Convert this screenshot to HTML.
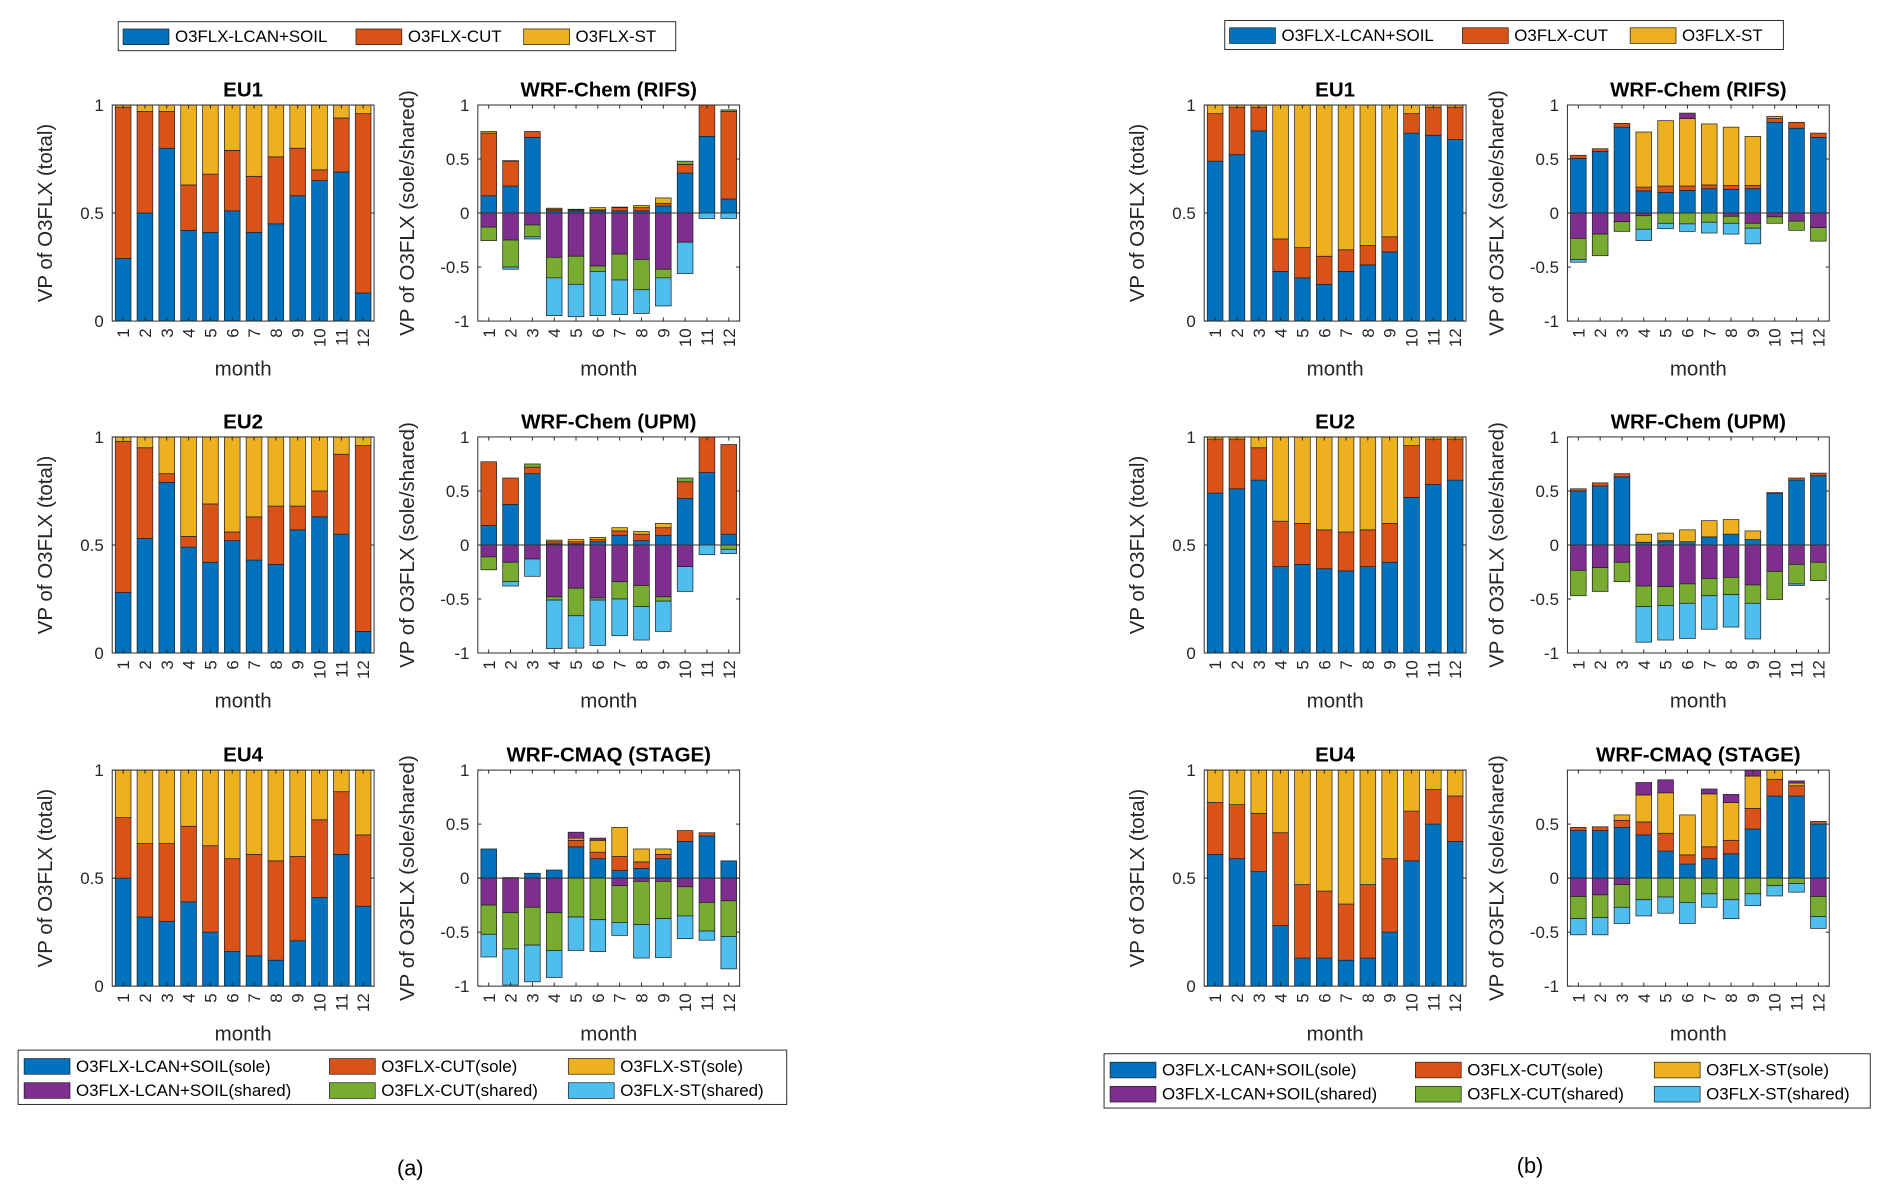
<!DOCTYPE html>
<html><head><meta charset="utf-8"><style>
html,body{margin:0;padding:0;background:#fff;}
svg{display:block;font-family:"Liberation Sans",Arial,sans-serif;}
</style></head><body>
<svg id="fig" width="1892" height="1201" viewBox="0 0 1568 995" preserveAspectRatio="none" xmlns="http://www.w3.org/2000/svg"></svg>
<script>
const months = ['1','2','3','4','5','6','7','8','9','10','11','12'];
const colors = ['#0072BD','#D95319','#EDB120','#7E2F8E','#77AC30','#4DBEEE'];
// total panels: LCAN+SOIL, CUT, ST
const eu1aL=[.29,.50,.80,.42,.41,.51,.41,.45,.58,.65,.69,.13];
const eu1aC=[.70,.47,.17,.21,.27,.28,.26,.31,.22,.05,.25,.83];
const eu1aS=[.01,.03,.03,.37,.32,.21,.33,.24,.20,.30,.06,.04];
const eu2aL=[.28,.53,.79,.49,.42,.52,.43,.41,.57,.63,.55,.10];
const eu2aC=[.70,.42,.04,.05,.27,.04,.20,.27,.11,.12,.37,.86];
const eu2aS=[.02,.05,.17,.46,.31,.44,.37,.32,.32,.25,.08,.04];
const eu4aL=[.50,.32,.30,.39,.25,.16,.14,.12,.21,.41,.61,.37];
const eu4aC=[.28,.34,.36,.35,.40,.43,.47,.46,.39,.36,.29,.33];
const eu4aS=[.22,.34,.34,.26,.35,.41,.39,.42,.40,.23,.10,.30];
const eu1bL=[.74,.77,.88,.23,.20,.17,.23,.26,.32,.87,.86,.84];
const eu1bC=[.22,.22,.11,.15,.14,.13,.10,.09,.07,.09,.13,.15];
const eu1bS=[.04,.01,.01,.62,.66,.70,.67,.65,.61,.04,.01,.01];
const eu2bL=[.74,.76,.80,.40,.41,.39,.38,.40,.42,.72,.78,.80];
const eu2bC=[.25,.23,.15,.21,.19,.18,.18,.17,.18,.24,.21,.19];
const eu2bS=[.01,.01,.05,.39,.40,.43,.44,.43,.40,.04,.01,.01];
const eu4bL=[.61,.59,.53,.28,.13,.13,.12,.13,.25,.58,.75,.67];
const eu4bC=[.24,.25,.27,.43,.34,.31,.26,.34,.34,.23,.16,.21];
const eu4bS=[.15,.16,.20,.29,.53,.56,.62,.53,.41,.19,.09,.12];
// sole/shared panels: Lsole, Csole, Ssole, Lshared, Cshared, Sshared (signed)
const rifsaLs=[.16,.25,.70,.02,.02,.02,.02,.02,.065,.37,.71,.13];
const rifsaCs=[.58,.23,.055,.015,.01,.01,.03,.03,.025,.08,.29,.81];
const rifsaSs=[.015,.005,0,.01,.005,.02,.005,.02,.05,0,0,0];
const rifsaLh=[-.13,-.25,-.11,-.41,-.40,-.49,-.38,-.43,-.52,-.27,0,0];
const rifsaCh=[-.125,-.25,-.11,-.19,-.26,-.05,-.24,-.28,-.08,.03,0,.015];
const rifsaSh=[0,-.02,-.02,-.35,-.30,-.41,-.32,-.22,-.26,-.29,-.05,-.05];
const upmaLs=[.18,.375,.66,.01,.01,.03,.09,.04,.09,.43,.67,.10];
const upmaCs=[.59,.245,.06,.02,.02,.02,.04,.06,.07,.155,.33,.83];
const upmaSs=[0,0,0,.015,.02,.02,.03,.025,.04,0,0,0];
const upmaLh=[-.11,-.16,-.13,-.48,-.40,-.49,-.34,-.375,-.48,-.20,0,0];
const upmaCh=[-.12,-.18,.03,-.03,-.255,-.02,-.16,-.195,-.04,.035,0,-.04];
const upmaSh=[0,-.04,-.16,-.45,-.30,-.42,-.34,-.31,-.28,-.23,-.09,-.04];
const stageaLs=[.27,.005,.045,.075,.29,.18,.07,.09,.18,.34,.39,.16];
const stageaCs=[0,0,0,0,.06,.06,.13,.06,.04,.10,.03,0];
const stageaSs=[0,0,0,0,.02,.11,.27,.12,.05,0,0,0];
const stageaLh=[-.25,-.32,-.27,-.32,.055,.02,-.07,-.03,-.03,-.08,-.225,-.21];
const stageaCh=[-.27,-.335,-.35,-.35,-.36,-.385,-.34,-.40,-.345,-.27,-.265,-.33];
const stageaSh=[-.21,-.335,-.34,-.25,-.31,-.295,-.12,-.31,-.36,-.21,-.085,-.30];
const rifsbLs=[.505,.57,.795,.205,.19,.21,.225,.22,.225,.84,.785,.70];
const rifsbCs=[.03,.025,.035,.035,.06,.04,.035,.035,.03,.035,.055,.04];
const rifsbSs=[0,0,0,.51,.605,.625,.565,.54,.455,.02,0,0];
const rifsbLh=[-.235,-.195,-.08,-.025,0,.05,0,-.03,-.095,-.035,-.075,-.135];
const rifsbCh=[-.195,-.20,-.09,-.125,-.095,-.10,-.085,-.065,-.045,-.06,-.085,-.125];
const rifsbSh=[-.025,0,0,-.105,-.05,-.07,-.10,-.10,-.145,0,0,0];
const upmbLs=[.50,.545,.63,.025,.03,.03,.075,.10,.05,.475,.60,.64];
const upmbCs=[.02,.03,.03,0,.01,0,0,0,0,.01,.02,.025];
const upmbSs=[0,0,0,.075,.07,.11,.15,.135,.08,0,0,0];
const upmbLh=[-.235,-.21,-.16,-.38,-.385,-.36,-.31,-.30,-.37,-.245,-.18,-.16];
const upmbCh=[-.235,-.22,-.18,-.19,-.175,-.18,-.16,-.16,-.17,-.26,-.18,-.17];
const upmbSh=[0,0,0,-.33,-.32,-.325,-.31,-.30,-.33,0,-.015,0];
const stagebLs=[.44,.44,.47,.40,.25,.13,.18,.225,.455,.76,.76,.50];
const stagebCs=[.03,.035,.065,.12,.165,.085,.11,.125,.19,.155,.095,.025];
const stagebSs=[0,0,.05,.25,.375,.37,.49,.35,.30,.10,.025,0];
const stagebLh=[-.17,-.155,-.06,.115,.12,0,.045,.075,.06,0,.02,-.17];
const stagebCh=[-.205,-.21,-.21,-.20,-.175,-.225,-.145,-.20,-.145,-.07,-.05,-.185];
const stagebSh=[-.15,-.16,-.15,-.15,-.15,-.195,-.125,-.175,-.11,-.095,-.08,-.11];

const NS='http://www.w3.org/2000/svg';
const fig=document.getElementById('fig');
function mk(tag,attrs,parent){const e=document.createElementNS(NS,tag);for(const k in attrs)e.setAttribute(k,attrs[k]);(parent||fig).appendChild(e);return e;}
function txt(s,attrs,parent){const e=mk('text',attrs,parent);e.textContent=s;return e;}

function panel(name,title,x0,y0,series,kind,yticks,ytl,ylab){
  const W=217,H=179;
  const g=mk('g',{});
  
  
  const ymin=kind==='total'?0:-1, ymax=1;
  const ys=v=>y0+H-(Math.max(ymin,Math.min(ymax,v))-ymin)/(ymax-ymin)*H;
  const xs=i=>x0+(i+0.5)*W/12;
  const bw=W/12*0.72;
  mk('rect',{x:x0,y:y0,width:W,height:H,fill:'#fff',stroke:'none'},g);
  for(let i=0;i<12;i++){
    let pos=0,neg=0;
    series.forEach((arr,s)=>{
      const v=arr[i]; if(!v) return;
      let a,b;
      if(v>0){a=pos;b=pos+v;pos=b;} else {a=neg;b=neg+v;neg=b;}
      const ya=ys(a), yb=ys(b);
      const r=mk('rect',{x:xs(i)-bw/2,y:Math.min(ya,yb),width:bw,height:Math.abs(ya-yb),fill:colors[s],stroke:'#222','stroke-width':0.6},g);
      
      
    });
  }
  if(kind!=='total') mk('line',{x1:x0,x2:x0+W,y1:ys(0),y2:ys(0),stroke:'#333','stroke-width':0.8},g);
  mk('rect',{x:x0,y:y0,width:W,height:H,fill:'none',stroke:'#262626','stroke-width':0.8},g);
  yticks.forEach((v,k)=>{
    const y=ys(v);
    mk('line',{x1:x0,x2:x0+3,y1:y,y2:y,stroke:'#262626','stroke-width':0.8},g);
    mk('line',{x1:x0+W-3,x2:x0+W,y1:y,y2:y,stroke:'#262626','stroke-width':0.8},g);
    const t=txt(ytl[k],{x:x0-7,y:y+5,'text-anchor':'end','font-size':14,fill:'#262626'},g);
    
    
  });
  months.forEach((m,i)=>{
    mk('line',{x1:xs(i),x2:xs(i),y1:y0+H,y2:y0+H-3,stroke:'#262626','stroke-width':0.8},g);
    mk('line',{x1:xs(i),x2:xs(i),y1:y0,y2:y0+3,stroke:'#262626','stroke-width':0.8},g);
    const t=txt(m,{x:0,y:0,'text-anchor':'end','font-size':14,fill:'#262626',transform:`translate(${xs(i)+5},${y0+H+6}) rotate(-90)`},g);
    
    
  });
  const tt=txt(title,{x:x0+W/2,y:y0-7,'text-anchor':'middle','font-size':17,'font-weight':'bold',fill:'#000'},g);
  
  
  const xl=txt('month',{x:x0+W/2,y:y0+H+45,'text-anchor':'middle','font-size':17,fill:'#262626'},g);
  
  
  const yl=txt(ylab,{x:0,y:0,'text-anchor':'middle','font-size':17,fill:'#262626',transform:`translate(${x0-(kind==='total'?50:53)},${y0+H/2}) rotate(-90)`},g);
  
  
}
const rowsY=[87,362,638];
const totT=[0,.5,1], totL=['0','0.5','1'];
const ssT=[-1,-.5,0,.5,1], ssL=['-1','-0.5','0','0.5','1'];
const ssTb=[-1,-.5,0,.5], ssLb=['-1','-0.5','0','0.5'];
const yT='VP of O3FLX (total)', yS='VP of O3FLX (sole/shared)';
panel('eu1-a','EU1',93,rowsY[0],[eu1aL,eu1aC,eu1aS],'total',totT,totL,yT);
panel('eu2-a','EU2',93,rowsY[1],[eu2aL,eu2aC,eu2aS],'total',totT,totL,yT);
panel('eu4-a','EU4',93,rowsY[2],[eu4aL,eu4aC,eu4aS],'total',totT,totL,yT);
panel('eu1-b','EU1',998,rowsY[0],[eu1bL,eu1bC,eu1bS],'total',totT,totL,yT);
panel('eu2-b','EU2',998,rowsY[1],[eu2bL,eu2bC,eu2bS],'total',totT,totL,yT);
panel('eu4-b','EU4',998,rowsY[2],[eu4bL,eu4bC,eu4bS],'total',totT,totL,yT);
panel('rifs-a','WRF-Chem (RIFS)',396,rowsY[0],[rifsaLs,rifsaCs,rifsaSs,rifsaLh,rifsaCh,rifsaSh],'ss',ssT,ssL,yS);
panel('upm-a','WRF-Chem (UPM)',396,rowsY[1],[upmaLs,upmaCs,upmaSs,upmaLh,upmaCh,upmaSh],'ss',ssT,ssL,yS);
panel('stage-a','WRF-CMAQ (STAGE)',396,rowsY[2],[stageaLs,stageaCs,stageaSs,stageaLh,stageaCh,stageaSh],'ss',ssT,ssL,yS);
panel('rifs-b','WRF-Chem (RIFS)',1299,rowsY[0],[rifsbLs,rifsbCs,rifsbSs,rifsbLh,rifsbCh,rifsbSh],'ss',ssT,ssL,yS);
panel('upm-b','WRF-Chem (UPM)',1299,rowsY[1],[upmbLs,upmbCs,upmbSs,upmbLh,upmbCh,upmbSh],'ss',ssT,ssL,yS);
panel('stage-b','WRF-CMAQ (STAGE)',1299,rowsY[2],[stagebLs,stagebCs,stagebSs,stagebLh,stagebCh,stagebSh],'ss',ssTb,ssLb,yS);

// legends
function legend(name,bx,by,bw,bh,items){
  const g=mk('g',{});
  
  
  mk('rect',{x:bx,y:by,width:bw,height:bh,fill:'#fff',stroke:'#262626','stroke-width':0.8},g);
  items.forEach(it=>{
    const r=mk('rect',{x:it[0],y:it[1]-6,width:38,height:13,fill:it[3],stroke:'#222','stroke-width':0.6},g);
    
    
    const t=txt(it[2],{x:it[0]+43,y:it[1]+5,'font-size':14,fill:'#000'},g);
    
    
  });
}
const topItems=(dx,dy)=>[[102+dx,30+dy,'O3FLX-LCAN+SOIL',colors[0]],[295+dx,30+dy,'O3FLX-CUT',colors[1]],[434+dx,30+dy,'O3FLX-ST',colors[2]]];
legend('top-legend-a',98,18,462,24,topItems(0,0));
legend('top-legend-b',1015,17,463,24,topItems(917,-1));
const botItems=(dx,dy)=>[
 [20+dx,883+dy,'O3FLX-LCAN+SOIL(sole)',colors[0]],[273+dx,883+dy,'O3FLX-CUT(sole)',colors[1]],[471+dx,883+dy,'O3FLX-ST(sole)',colors[2]],
 [20+dx,903+dy,'O3FLX-LCAN+SOIL(shared)',colors[3]],[273+dx,903+dy,'O3FLX-CUT(shared)',colors[4]],[471+dx,903+dy,'O3FLX-ST(shared)',colors[5]]];
legend('bottom-legend-a',15,870,637,45,botItems(0,0));
legend('bottom-legend-b',915,873,635,45,botItems(900,3));
const la=txt('(a)',{x:340,y:974,'text-anchor':'middle','font-size':18,fill:'#000'});


const lb=txt('(b)',{x:1268,y:972,'text-anchor':'middle','font-size':18,fill:'#000'});


</script>
</body></html>
